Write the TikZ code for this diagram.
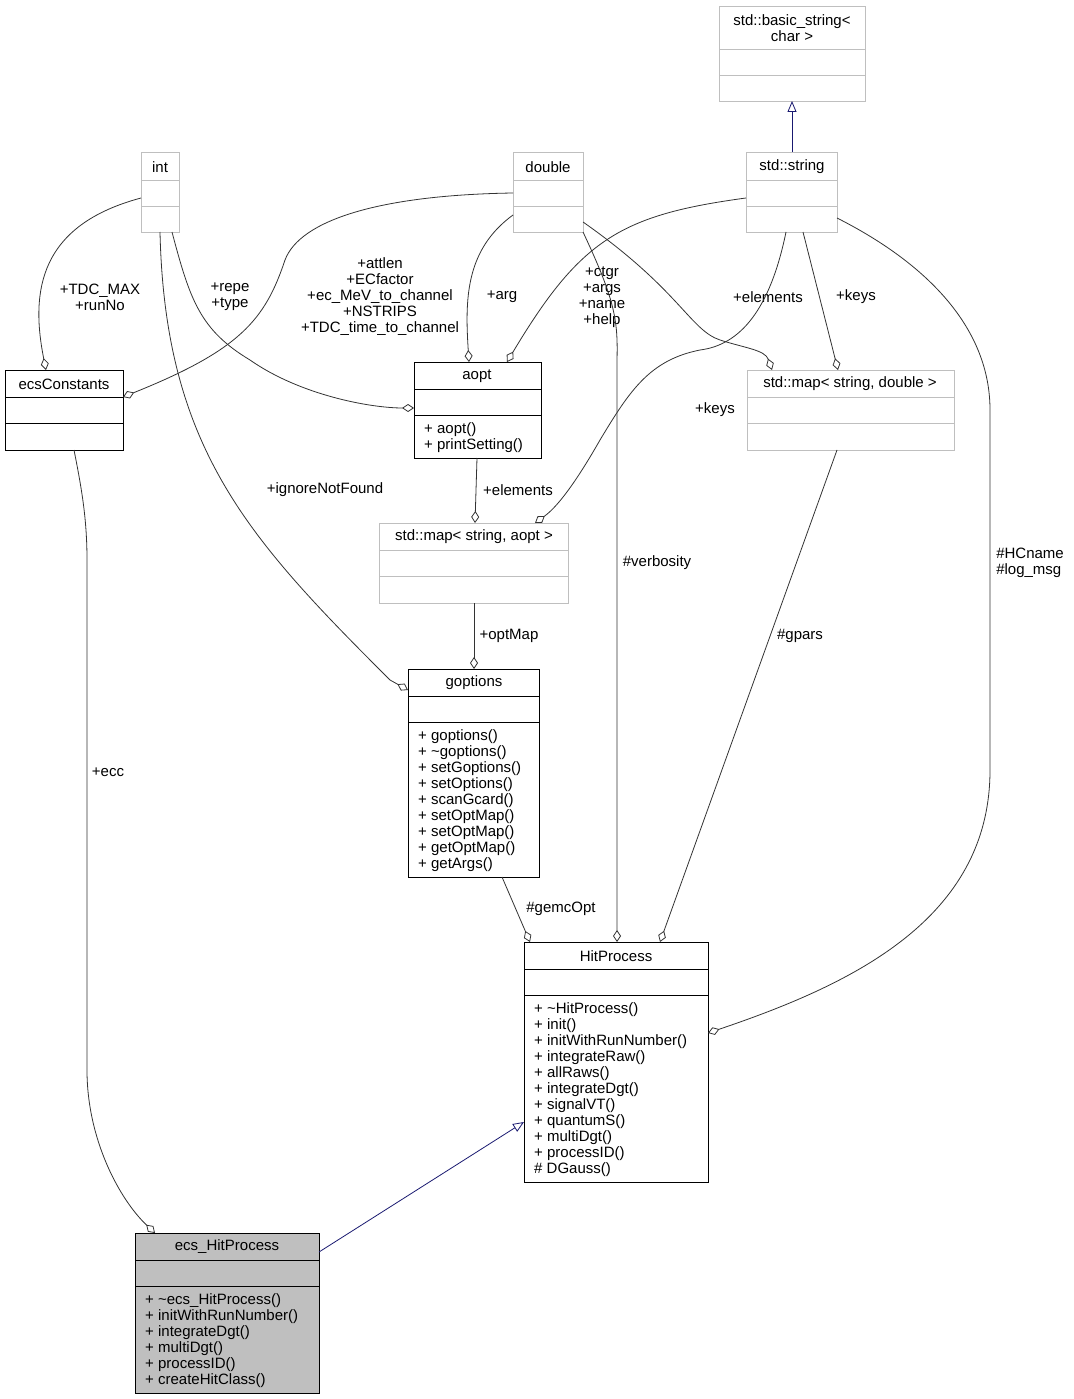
\documentclass[tikz,border=0pt]{standalone}
\usepackage{fontspec}
\setmainfont{Liberation Sans}
\usetikzlibrary{arrows.meta}
\definecolor{gb}{HTML}{BFBFBF}
\definecolor{nv}{HTML}{191970}
\newcommand\ubox[9]{% name,x1,y1,x2,y2,s1,s2,draw,fill
  \draw[#8,fill=#9] (#2,#3) rectangle (#4,#5);
  \draw[#8] (#2,#6) -- (#4,#6) (#2,#7) -- (#4,#7);
  \coordinate (#1) at ({(#2+#4)/2},{(#3+#5)/2});}
\begin{document}
\begin{tikzpicture}[x=1pt,y=-1pt,font=\fontsize{15}{16}\selectfont,
  t/.style={inner sep=0pt,align=center},
  m/.style={inner sep=0pt,align=left,anchor=north west},
  ag/.style={draw=black!80,line width=0.8pt,-{Diamond[open,length=12pt,width=8pt]}},
  ih/.style={draw=nv,line width=0.8pt,-{Triangle[open,length=11pt,width=9pt]}}]
\useasboundingbox (0,0) rectangle (1073,1399);
\ubox{bs}{719}{6}{865}{101}{49}{75}{gb}{white}
\node[t] at (792,28) {std::basic\_string<\\char >};
\ubox{int}{141}{152}{179}{232}{180}{206}{gb}{white}
\node[t] at (160,167) {int};
\ubox{dbl}{513}{152}{583}{232}{180}{206}{gb}{white}
\node[t] at (548,167) {double};
\ubox{str}{746}{152}{837}{232}{180}{206}{gb}{white}
\node[t] at (792,167) {std::string};
\ubox{ecs}{5}{370}{123}{450}{397}{423}{black}{white}
\node[t] at (64,384) {ecsConstants};
\ubox{aopt}{414}{362}{541}{458}{389}{415}{black}{white}
\node[t] at (477,376) {aopt};
\node[m] at (424,422) {+ aopt()\\+ printSetting()};
\ubox{msd}{747}{370}{954}{450}{397}{423}{gb}{white}
\node[t] at (850,384) {std::map< string, double >};
\ubox{msa}{379}{523}{568}{603}{550}{576}{gb}{white}
\node[t] at (474,537) {std::map< string, aopt >};
\ubox{gopt}{408}{669}{539}{877}{696}{722}{black}{white}
\node[t] at (474,683) {goptions};
\node[m] at (418,729) {+ goptions()\\+ \textasciitilde goptions()\\+ setGoptions()\\+ setOptions()\\+ scanGcard()\\+ setOptMap()\\+ setOptMap()\\+ getOptMap()\\+ getArgs()};
\ubox{hp}{524}{942}{708}{1182}{969}{995}{black}{white}
\node[t] at (616,956) {HitProcess};
\node[m] at (534,1002) {+ \textasciitilde HitProcess()\\+ init()\\+ initWithRunNumber()\\+ integrateRaw()\\+ allRaws()\\+ integrateDgt()\\+ signalVT()\\+ quantumS()\\+ multiDgt()\\+ processID()\\\# DGauss()};
\ubox{ehp}{135}{1233}{319}{1393}{1260}{1286}{black}{gb}
\node[t] at (227,1247) {ecs\_HitProcess};
\node[m] at (145,1293) {+ \textasciitilde ecs\_HitProcess()\\+ initWithRunNumber()\\+ integrateDgt()\\+ multiDgt()\\+ processID()\\+ createHitClass()};
% inheritance
\draw[ih] (792,152) -- (792,101);
\draw[ih] (319,1252) -- (524,1122);
% aggregations
\draw[ag] (141,198) .. controls (40,225) and (30,290) .. (46,370);
\node[t] at (100,297) {+TDC\_MAX\\+runNo};
\draw[ag] (513,193) .. controls (380,195) and (300,220) .. (285,260) .. controls (265,320) and (240,350) .. (123,397);
\node[t] at (380,297) {+attlen\\+ECfactor\\+ec\_MeV\_to\_channel\\+NSTRIPS\\+TDC\_time\_to\_channel};
\draw[ag] (172,232) .. controls (190,300) and (200,330) .. (250,360) .. controls (300,395) and (370,408) .. (414,408);
\node[t] at (230,297) {+repe\\+type};
\draw[ag] (513,215) .. controls (465,250) and (465,300) .. (469,362);
\node[t] at (502,297) {+arg};
\draw[ag] (746,198) .. controls (620,215) and (580,240) .. (507,362);
\node[t] at (602,297) {+ctgr\\+args\\+name\\+help};
\draw[ag] (583,222) .. controls (680,290) and (690,330) .. (720,340) .. controls (745,348) and (765,350) .. (772,370);
\node[t] at (768,297) {+elements};
\draw[ag] (803,232) -- (838,370);
\node[t] at (856,297) {+keys};
\draw[ag] (786,232) .. controls (770,310) and (740,345) .. (700,350) .. controls (650,360) and (630,390) .. (600,440) .. controls (580,475) and (560,505) .. (535,523);
\node[t] at (715,410) {+keys};
\draw[ag] (477,458) -- (475,523);
\node[t] at (518,490) {+elements};
\draw[ag] (474,603) -- (474,669);
\node[t] at (509,636) {+optMap};
\draw[ag] (160,232) .. controls (165,450) and (250,540) .. (390,680) -- (408,690);
\node[t] at (325,490) {+ignoreNotFound};
\draw[ag] (502,877) -- (530,942);
\node[t] at (561,909) {\#gemcOpt};
\draw[ag] (583,232) .. controls (615,300) and (618,320) .. (617,360) -- (617,942);
\node[t] at (657,563) {\#verbosity};
\draw[ag] (837,450) -- (660,942);
\node[t] at (800,636) {\#gpars};
\draw[ag] (837,218) .. controls (930,265) and (990,330) .. (990,410) -- (990,770) .. controls (990,920) and (850,985) .. (708,1033);
\node[t,align=left] at (1030,563) {\#HCname\\\#log\_msg};
\draw[ag] (74,450) .. controls (82,490) and (87,520) .. (87,560) -- (87,1070) .. controls (87,1140) and (120,1200) .. (155,1233);
\node[t] at (108,772) {+ecc};
\end{tikzpicture}
\end{document}
